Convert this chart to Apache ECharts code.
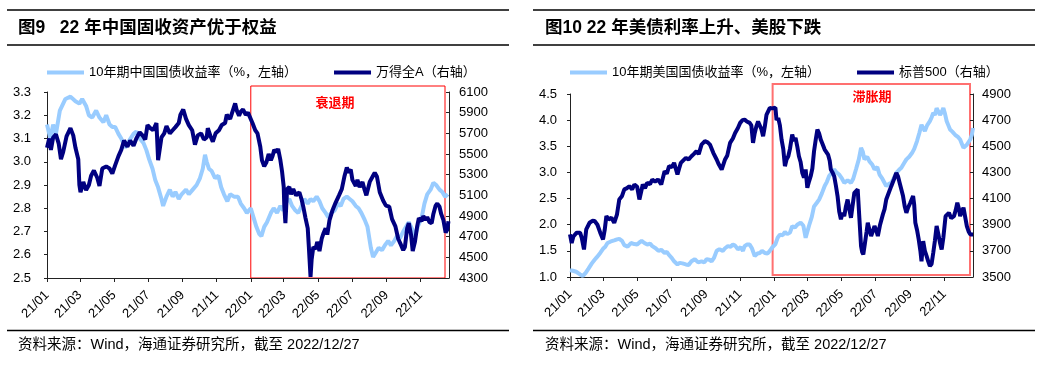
<!DOCTYPE html>
<html><head><meta charset="utf-8">
<script src="https://cdn.jsdelivr.net/npm/echarts@6/dist/echarts.min.js"></script>
<style>html,body{margin:0;padding:0;background:#fff}#c{width:1055px;height:365px}</style>
</head><body><div id="c"></div>
<script>
// ---------- data ----------
const tickLabels = ['21/01','21/03','21/05','21/07','21/09','21/11','22/01','22/03','22/05','22/07','22/09','22/11'];

const cnDates = [
'2021-01-01','2021-01-07','2021-01-12','2021-01-17','2021-01-24','2021-02-03','2021-02-12','2021-02-21','2021-02-28','2021-03-05',
'2021-03-12','2021-03-17','2021-03-23','2021-03-30','2021-04-05','2021-04-12','2021-04-17','2021-04-23','2021-04-28','2021-05-03',
'2021-05-09','2021-05-14','2021-05-21','2021-05-28','2021-06-05','2021-06-10','2021-06-16','2021-06-23','2021-06-28','2021-07-03',
'2021-07-09','2021-07-14','2021-07-19','2021-07-25','2021-07-28','2021-08-03','2021-08-09','2021-08-14','2021-08-19','2021-08-25',
'2021-08-30','2021-09-07','2021-09-12','2021-09-19','2021-09-26','2021-10-02','2021-10-07','2021-10-11','2021-10-14','2021-10-18',
'2021-10-23','2021-10-29','2021-11-04','2021-11-09','2021-11-14','2021-11-20','2021-11-25','2021-12-02','2021-12-09','2021-12-14',
'2021-12-20','2021-12-25',
'2022-01-01','2022-01-06','2022-01-11','2022-01-16','2022-01-20','2022-01-25','2022-01-30','2022-02-06','2022-02-11','2022-02-17',
'2022-02-23','2022-02-28','2022-03-06','2022-03-11','2022-03-16','2022-03-22','2022-03-27','2022-04-02','2022-04-07','2022-04-13',
'2022-04-18','2022-04-23','2022-04-29','2022-05-04','2022-05-09','2022-05-15','2022-05-20','2022-05-25','2022-05-31','2022-06-06',
'2022-06-11','2022-06-16','2022-06-22','2022-06-27','2022-07-02','2022-07-08','2022-07-13','2022-07-18','2022-07-24','2022-07-29',
'2022-08-04','2022-08-08','2022-08-13','2022-08-18','2022-08-24','2022-08-29','2022-09-04','2022-09-09','2022-09-15','2022-09-20',
'2022-09-25','2022-10-01','2022-10-06','2022-10-11','2022-10-17','2022-10-22','2022-10-27','2022-11-03','2022-11-08','2022-11-13',
'2022-11-19','2022-11-24','2022-11-29','2022-12-05','2022-12-10','2022-12-15','2022-12-20'];
const cnYield = [
3.16,3.10,3.16,3.12,3.22,3.27,3.28,3.26,3.25,3.27,
3.24,3.20,3.19,3.22,3.19,3.17,3.20,3.16,3.15,3.15,
3.12,3.10,3.06,3.09,3.12,3.13,3.10,3.08,3.05,3.01,
2.97,2.92,2.89,2.84,2.81,2.85,2.88,2.85,2.87,2.84,
2.86,2.88,2.86,2.88,2.90,2.93,2.97,3.03,3.00,2.97,
2.96,2.93,2.94,2.89,2.86,2.83,2.86,2.85,2.85,2.82,
2.80,2.78,
2.80,2.76,2.72,2.69,2.68,2.72,2.74,2.78,2.80,2.78,
2.81,2.79,2.83,2.84,2.81,2.79,2.78,2.81,2.84,2.82,
2.84,2.83,2.85,2.83,2.80,2.78,2.76,2.78,2.79,2.82,
2.81,2.84,2.85,2.84,2.83,2.81,2.80,2.78,2.75,2.72,
2.63,2.59,2.61,2.63,2.62,2.64,2.66,2.64,2.66,2.68,
2.67,2.70,2.72,2.74,2.71,2.68,2.72,2.76,2.82,2.86,
2.88,2.91,2.90,2.88,2.87,2.85,2.86];

const windDates = [
'2021-01-01','2021-01-05','2021-01-08','2021-01-12','2021-01-17','2021-01-22','2021-01-26','2021-01-30','2021-02-05','2021-02-12',
'2021-02-17','2021-02-21','2021-02-26','2021-02-28','2021-03-02','2021-03-07','2021-03-12','2021-03-17','2021-03-21','2021-03-26',
'2021-04-01','2021-04-05','2021-04-10','2021-04-17','2021-04-23','2021-04-28','2021-05-03','2021-05-09','2021-05-14','2021-05-19',
'2021-05-25','2021-05-30','2021-06-05','2021-06-10','2021-06-16','2021-06-21','2021-06-26','2021-06-30','2021-07-05','2021-07-10',
'2021-07-16','2021-07-19','2021-07-25','2021-07-30','2021-08-03','2021-08-09','2021-08-14','2021-08-19','2021-08-25','2021-08-28',
'2021-09-02','2021-09-07','2021-09-12','2021-09-18','2021-09-23','2021-09-28','2021-10-04','2021-10-09','2021-10-14','2021-10-16',
'2021-10-21','2021-10-25','2021-10-30','2021-11-05','2021-11-10','2021-11-16','2021-11-19','2021-11-25','2021-11-28','2021-12-04',
'2021-12-07','2021-12-11','2021-12-14','2021-12-18','2021-12-23','2021-12-27',
'2022-01-04','2022-01-09','2022-01-13','2022-01-18','2022-01-21','2022-01-25','2022-01-29','2022-02-02','2022-02-06','2022-02-09',
'2022-02-12','2022-02-16','2022-02-19','2022-02-23','2022-02-26','2022-03-01','2022-03-02','2022-03-04','2022-03-07','2022-03-11',
'2022-03-14','2022-03-18','2022-03-23','2022-03-29','2022-04-02','2022-04-05','2022-04-09','2022-04-13','2022-04-15','2022-04-18',
'2022-04-20','2022-04-23','2022-04-27','2022-04-30','2022-05-04','2022-05-08','2022-05-11','2022-05-15','2022-05-18','2022-05-22',
'2022-05-27','2022-06-02','2022-06-08','2022-06-13','2022-06-18','2022-06-22','2022-06-25','2022-06-29','2022-07-02','2022-07-08',
'2022-07-11','2022-07-15','2022-07-20','2022-07-24','2022-07-27','2022-08-02','2022-08-08','2022-08-11','2022-08-15','2022-08-20',
'2022-08-26','2022-08-31','2022-09-06','2022-09-11','2022-09-17','2022-09-22','2022-09-27','2022-10-01','2022-10-04','2022-10-08',
'2022-10-11','2022-10-15','2022-10-18','2022-10-22','2022-10-26','2022-10-29','2022-11-03','2022-11-06','2022-11-10','2022-11-13',
'2022-11-17','2022-11-21','2022-11-24','2022-11-28','2022-12-01','2022-12-05','2022-12-08','2022-12-12','2022-12-16','2022-12-19',
'2022-12-21'];
const windA = [
5560,5650,5540,5660,5690,5600,5450,5520,5670,5750,
5680,5560,5450,5200,5130,5230,5150,5200,5290,5340,
5270,5190,5360,5380,5360,5310,5390,5480,5540,5630,
5570,5630,5580,5650,5710,5680,5640,5780,5750,5730,
5800,5440,5660,5700,5770,5700,5730,5760,5800,5880,
5930,5840,5780,5730,5590,5680,5700,5640,5660,5750,
5670,5620,5700,5730,5780,5800,5880,5840,5830,5990,
5920,5870,5910,5930,5880,5900,
5800,5730,5700,5570,5440,5380,5420,5500,5440,5480,
5540,5520,5550,5440,5330,5180,5000,4830,5160,5180,
5110,5160,5100,5130,5060,4990,4880,4780,4600,4310,
4480,4600,4580,4650,4560,4680,4730,4780,4720,4860,
4950,5030,5100,5160,5290,5370,5320,5350,5250,5190,
5250,5180,5230,5150,5100,5230,5290,5320,5280,5130,
5050,5000,4990,4870,4800,4680,4620,4570,4600,4780,
4830,4720,4560,4650,4800,4880,4850,4900,4860,4890,
4840,4830,4920,5000,5020,4990,4920,4860,4740,4770,
4850];

const usDates = [
'2021-01-01','2021-01-06','2021-01-12','2021-01-19','2021-01-24','2021-01-29','2021-02-03','2021-02-09','2021-02-14','2021-02-18',
'2021-02-24','2021-03-01','2021-03-05','2021-03-09','2021-03-15','2021-03-21','2021-03-26','2021-03-30','2021-04-04','2021-04-08',
'2021-04-14','2021-04-20','2021-04-26','2021-05-01','2021-05-05','2021-05-09','2021-05-14','2021-05-19','2021-05-24','2021-05-28',
'2021-06-03','2021-06-08','2021-06-13','2021-06-19','2021-06-23','2021-06-27','2021-07-02','2021-07-06','2021-07-12','2021-07-16',
'2021-07-21','2021-07-27','2021-08-01','2021-08-06','2021-08-12','2021-08-18','2021-08-24','2021-08-29','2021-09-02','2021-09-07',
'2021-09-11','2021-09-15','2021-09-20','2021-09-25','2021-10-01','2021-10-05','2021-10-10','2021-10-15','2021-10-19','2021-10-23',
'2021-10-28','2021-11-02','2021-11-06','2021-11-09','2021-11-13','2021-11-18','2021-11-22','2021-11-27','2021-12-02','2021-12-06',
'2021-12-10','2021-12-15','2021-12-20','2021-12-24','2021-12-28',
'2022-01-03','2022-01-07','2022-01-11','2022-01-16','2022-01-20','2022-01-24','2022-01-29','2022-02-02','2022-02-07','2022-02-11',
'2022-02-17','2022-02-22','2022-02-26','2022-03-01','2022-03-04','2022-03-09','2022-03-13','2022-03-18','2022-03-22','2022-03-27',
'2022-04-01','2022-04-05','2022-04-09','2022-04-14','2022-04-18','2022-04-22','2022-04-27','2022-05-02','2022-05-06','2022-05-12',
'2022-05-18','2022-05-22','2022-05-27','2022-06-01','2022-06-05','2022-06-08','2022-06-11','2022-06-16','2022-06-20','2022-06-25',
'2022-06-29','2022-07-04','2022-07-08','2022-07-13','2022-07-20','2022-07-25','2022-07-29','2022-08-03','2022-08-07','2022-08-12',
'2022-08-16','2022-08-21','2022-08-25','2022-08-30','2022-09-04','2022-09-08','2022-09-13','2022-09-17','2022-09-21','2022-09-24',
'2022-09-27','2022-10-01','2022-10-06','2022-10-09','2022-10-12','2022-10-15','2022-10-18','2022-10-21','2022-10-24','2022-10-27',
'2022-10-30','2022-11-02','2022-11-05','2022-11-08','2022-11-11','2022-11-15','2022-11-20','2022-11-25','2022-11-29','2022-12-02',
'2022-12-05','2022-12-08','2022-12-11','2022-12-14','2022-12-17','2022-12-20','2022-12-22'];
const usYield = [
1.13,1.12,1.10,1.05,1.02,1.08,1.16,1.26,1.33,1.38,
1.46,1.54,1.58,1.65,1.68,1.70,1.72,1.73,1.69,1.61,
1.58,1.65,1.63,1.62,1.66,1.69,1.65,1.62,1.64,1.59,
1.55,1.50,1.52,1.46,1.48,1.42,1.36,1.30,1.24,1.27,
1.26,1.24,1.23,1.30,1.34,1.28,1.30,1.28,1.34,1.33,
1.30,1.36,1.50,1.53,1.50,1.55,1.59,1.58,1.62,1.60,
1.53,1.57,1.50,1.59,1.62,1.62,1.55,1.40,1.45,1.46,
1.50,1.46,1.45,1.50,1.56,
1.63,1.75,1.81,1.80,1.86,1.82,1.85,1.97,1.95,2.00,
2.04,1.98,1.75,1.78,1.98,2.15,2.35,2.42,2.48,2.60,
2.74,2.82,2.93,3.00,3.06,3.00,2.96,2.88,2.80,2.85,
2.80,2.88,3.06,3.25,3.47,3.40,3.25,3.30,3.21,3.15,
3.06,3.10,2.96,2.88,2.74,2.78,2.80,2.90,2.99,3.05,
3.09,3.18,3.25,3.30,3.37,3.45,3.60,3.75,3.91,3.85,
3.79,3.90,3.98,4.05,4.14,4.10,4.23,4.20,4.10,4.15,
4.23,4.12,3.98,3.90,3.82,3.78,3.72,3.68,3.63,3.55,
3.47,3.50,3.53,3.50,3.63,3.72,3.85];

const spxDates = [
'2021-01-01','2021-01-04','2021-01-07','2021-01-10','2021-01-13','2021-01-19','2021-01-22','2021-01-26','2021-01-30','2021-02-05',
'2021-02-10','2021-02-14','2021-02-19','2021-02-24','2021-03-01','2021-03-04','2021-03-07','2021-03-11','2021-03-16','2021-03-21',
'2021-03-26','2021-03-30','2021-04-04','2021-04-08','2021-04-13','2021-04-17','2021-04-22','2021-04-26','2021-05-01','2021-05-05',
'2021-05-08','2021-05-11','2021-05-15','2021-05-19','2021-05-24','2021-05-28','2021-06-02','2021-06-07','2021-06-13','2021-06-19',
'2021-06-23','2021-06-27','2021-07-02','2021-07-06','2021-07-12','2021-07-15','2021-07-18','2021-07-22','2021-07-27','2021-08-01',
'2021-08-06','2021-08-10','2021-08-15','2021-08-19','2021-08-24','2021-08-30','2021-09-04','2021-09-08','2021-09-14','2021-09-20',
'2021-09-24','2021-09-29','2021-10-05','2021-10-09','2021-10-14','2021-10-19','2021-10-23','2021-10-28','2021-11-01','2021-11-05',
'2021-11-09','2021-11-13','2021-11-18','2021-11-21','2021-11-24','2021-11-27','2021-11-30','2021-12-03','2021-12-06','2021-12-09',
'2021-12-12','2021-12-15','2021-12-18','2021-12-21','2021-12-24','2021-12-28',
'2022-01-03','2022-01-05','2022-01-08','2022-01-11','2022-01-14','2022-01-17','2022-01-20','2022-01-23','2022-01-26','2022-01-29',
'2022-02-02','2022-02-05','2022-02-08','2022-02-11','2022-02-14','2022-02-17','2022-02-20','2022-02-23','2022-02-26','2022-03-01',
'2022-03-04','2022-03-07','2022-03-10','2022-03-13','2022-03-16','2022-03-19','2022-03-22','2022-03-25','2022-03-28','2022-04-01',
'2022-04-04','2022-04-07','2022-04-10','2022-04-12','2022-04-15','2022-04-18','2022-04-21','2022-04-24','2022-04-27','2022-04-30',
'2022-05-03','2022-05-06','2022-05-09','2022-05-12','2022-05-15','2022-05-18','2022-05-21','2022-05-24','2022-05-27','2022-05-30',
'2022-06-02','2022-06-05','2022-06-07','2022-06-09','2022-06-12','2022-06-15','2022-06-17','2022-06-20','2022-06-23','2022-06-26',
'2022-06-29','2022-07-02','2022-07-05','2022-07-09','2022-07-14','2022-07-17','2022-07-20','2022-07-25','2022-07-29','2022-08-03',
'2022-08-07','2022-08-10','2022-08-13','2022-08-16','2022-08-19','2022-08-22','2022-08-25','2022-08-28','2022-09-01','2022-09-06',
'2022-09-08','2022-09-10','2022-09-13','2022-09-16','2022-09-19','2022-09-21','2022-09-24','2022-09-27','2022-09-30','2022-10-03',
'2022-10-06','2022-10-09','2022-10-12','2022-10-15','2022-10-18','2022-10-21','2022-10-24','2022-10-27','2022-10-30','2022-11-03',
'2022-11-06','2022-11-09','2022-11-13','2022-11-18','2022-11-21','2022-11-24','2022-11-27','2022-11-29','2022-12-02','2022-12-05',
'2022-12-08','2022-12-11','2022-12-14','2022-12-17','2022-12-22'];
const spx = [
3826,3760,3810,3800,3839,3839,3800,3711,3864,3915,
3930,3928,3900,3839,3788,3860,3966,3940,3953,3915,
3980,4093,4120,4170,4180,4195,4170,4208,4190,4093,
4150,4208,4180,4220,4210,4246,4230,4246,4208,4310,
4290,4348,4340,4373,4284,4330,4373,4390,4411,4400,
4424,4440,4462,4440,4513,4539,4530,4513,4450,4399,
4360,4322,4399,4430,4526,4560,4602,4640,4679,4700,
4704,4690,4679,4660,4526,4600,4653,4690,4704,4630,
4577,4650,4740,4740,4793,4790,
4796,4700,4717,4660,4551,4480,4348,4400,4424,4480,
4590,4540,4564,4500,4424,4380,4297,4260,4322,4182,
4230,4271,4330,4462,4550,4628,4600,4551,4520,4475,
4480,4437,4390,4322,4300,4271,4200,4119,4000,3941,
3990,3966,4040,4093,4020,3953,4050,4144,4150,4170,
3950,3737,3690,3673,3760,3850,3915,3860,3813,3850,
3890,3860,3813,3900,3979,4020,4093,4150,4195,4250,
4297,4270,4220,4170,4119,4040,3991,4030,4068,4119,
4050,3915,3860,3788,3700,3620,3775,3700,3661,3620,
3584,3600,3686,3780,3890,3830,3762,3711,3800,3966,
3960,3991,3950,3966,4010,4068,4020,3966,4000,4030,
3960,3890,3850,3826,3826];

const cnTicks = [2.5,2.6,2.7,2.8,2.9,3.0,3.1,3.2,3.3];
const windTicks = [4300,4500,4700,4900,5100,5300,5500,5700,5900,6100];
const usTicks = [1.0,1.5,2.0,2.5,3.0,3.5,4.0,4.5];
const spxTicks = [3500,3700,3900,4100,4300,4500,4700,4900];

// ---------- chart ----------
const LIGHT = '#99CCFF', NAVY = '#000080';
const FONT = '"Liberation Sans","Noto Sans CJK SC",sans-serif';
const ts = s => { const p = s.split('-').map(Number); return new Date(p[0], p[1] - 1, p[2]).getTime(); };
const tickTimes = tickLabels.map(s => { const [y, m] = s.split('/').map(Number); return new Date(2000 + y, m - 1, 1).getTime(); });
const xMin = new Date(2021, 0, 1).getTime();
const xMax = new Date(2022, 11, 22).getTime();
const pair = (d, v) => d.map((x, i) => [ts(x), v[i]]);
const fmtX = v => { const d = new Date(v); return String(d.getFullYear() % 100).padStart(2, '0') + '/' + String(d.getMonth() + 1).padStart(2, '0'); };

function xAxis(gi) {
  return {
    type: 'value', gridIndex: gi, min: xMin, max: xMax, scale: true,
    axisLine: { show: true, lineStyle: { color: '#222', width: 1 } },
    axisTick: { show: true, length: 4, lineStyle: { color: '#222' }, customValues: tickTimes },
    axisLabel: { customValues: tickTimes, formatter: fmtX, rotate: 45, fontSize: 13, color: '#000', fontFamily: FONT, margin: 15, hideOverlap: false },
    splitLine: { show: false }
  };
}
function yAxis(gi, pos, min, max, ticks, dec, margin) {
  return {
    type: 'value', gridIndex: gi, position: pos, min: min, max: max,
    axisLine: { show: true, lineStyle: { color: '#222', width: 1 } },
    axisTick: { show: true, length: 3, inside: pos === 'right', lineStyle: { color: '#222' }, customValues: ticks },
    axisLabel: { customValues: ticks, formatter: v => v.toFixed(dec), fontSize: 13, color: '#000', fontFamily: FONT, margin: margin },
    splitLine: { show: false }
  };
}
const legendBase = { icon: 'rect', itemWidth: 37, itemHeight: 4, itemGap: 37, top: 66, padding: 0,
  textStyle: { fontSize: 13, color: '#000', fontFamily: FONT } };

const names = ['10年期中国国债收益率（%，左轴）', '万得全A（右轴）', '10年期美国国债收益率（%，左轴）', '标普500（右轴）'];
const chart = echarts.init(document.getElementById('c'), null, { renderer: 'canvas' });
const option = {
  animation: false,
  backgroundColor: '#fff',
  grid: [
    { left: 47, top: 92, width: 402, height: 186 },
    { left: 570, top: 94, width: 403, height: 183 }
  ],
  legend: [
    Object.assign({}, legendBase, { left: 47, data: [names[0], names[1]] }),
    Object.assign({}, legendBase, { left: 570, data: [names[2], names[3]] })
  ],
  xAxis: [xAxis(0), xAxis(1)],
  yAxis: [
    yAxis(0, 'left', 2.5, 3.3, cnTicks, 1, 16),
    yAxis(0, 'right', 4300, 6100, windTicks, 0, 10),
    yAxis(1, 'left', 1.0, 4.5, usTicks, 1, 13),
    yAxis(1, 'right', 3500, 4900, spxTicks, 0, 9)
  ],
  series: [
    { name: names[0], type: 'line', xAxisIndex: 0, yAxisIndex: 0, data: pair(cnDates, cnYield), showSymbol: false, lineStyle: { color: LIGHT, width: 4 }, itemStyle: { color: LIGHT } },
    { name: names[1], type: 'line', xAxisIndex: 0, yAxisIndex: 1, data: pair(windDates, windA), showSymbol: false, lineStyle: { color: NAVY, width: 4 }, itemStyle: { color: NAVY } },
    { name: names[2], type: 'line', xAxisIndex: 1, yAxisIndex: 2, data: pair(usDates, usYield), showSymbol: false, lineStyle: { color: LIGHT, width: 4 }, itemStyle: { color: LIGHT } },
    { name: names[3], type: 'line', xAxisIndex: 1, yAxisIndex: 3, data: pair(spxDates, spx), showSymbol: false, lineStyle: { color: NAVY, width: 4 }, itemStyle: { color: NAVY } }
  ]
};
chart.setOption(option);

// annotations (rules, titles, period boxes, notes)
const px = (ai, d) => chart.convertToPixel({ xAxisIndex: ai }, d);
const lx0 = px(0, new Date(2022, 0, 1).getTime());
const rx0 = px(1, new Date(2021, 11, 29).getTime());
const rule = (x1, x2, y) => ({ type: 'line', shape: { x1: x1, y1: y, x2: x2, y2: y }, style: { stroke: '#000', lineWidth: 1.5 }, silent: true });
const text = (x, y, t, font, fill, align) => ({ type: 'text', x: x, y: y, style: { text: t, font: font, fill: fill || '#000', verticalAlign: 'middle', align: align || 'left' }, silent: true });
const titleFont = 'bold 17.5px "Liberation Sans","Noto Sans CJK SC",sans-serif';
const noteFont = '14.5px "Liberation Sans","Noto Sans CJK SC",sans-serif';
const tagFont = 'bold 13px "Noto Sans CJK SC",sans-serif';
chart.setOption({
  graphic: [
    rule(7, 509, 10), rule(7, 509, 45), rule(7, 509, 330.5),
    rule(533, 1035, 10), rule(533, 1035, 45), rule(533, 1035, 330.5),
    text(18, 28, '图9   22 年中国固收资产优于权益', titleFont),
    text(545, 28, '图10 22 年美债利率上升、美股下跌', titleFont),
    text(18, 345, '资料来源：Wind，海通证券研究所，截至 2022/12/27', noteFont),
    text(545, 345, '资料来源：Wind，海通证券研究所，截至 2022/12/27', noteFont),
    { type: 'rect', shape: { x: lx0, y: 86, width: 445 - lx0, height: 192 }, style: { fill: 'none', stroke: '#FF0000', lineWidth: 1 }, silent: true },
    { type: 'rect', shape: { x: rx0, y: 84, width: 970 - rx0, height: 191 }, style: { fill: 'none', stroke: '#FF7070', lineWidth: 2 }, silent: true },
    text(335, 102, '衰退期', tagFont, '#FF0000', 'center'),
    text(872, 96, '滞胀期', tagFont, '#FF0000', 'center')
  ]
});
</script></body></html>
